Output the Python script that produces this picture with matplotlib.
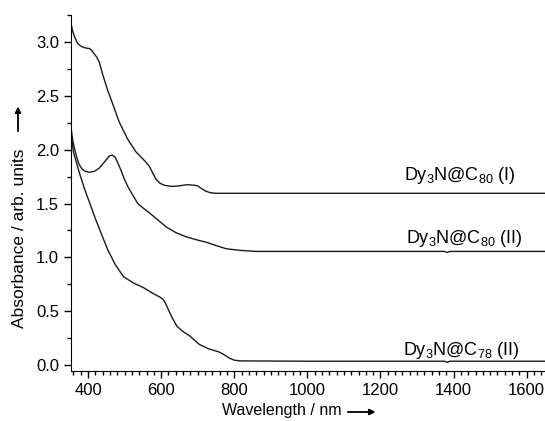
import numpy as np
import matplotlib.pyplot as plt
from matplotlib.ticker import MultipleLocator, FormatStrFormatter

plt.rcParams['font.family'] = ['Liberation Sans', 'DejaVu Sans']
plt.rcParams['mathtext.fontset'] = 'custom'
plt.rcParams['mathtext.rm'] = 'Liberation Sans'
plt.rcParams['mathtext.default'] = 'regular'

# Dy3N@C80 (I)
wl_1 = [353, 358, 363, 371, 381, 393, 404, 411, 417, 424, 431, 440, 454, 467,
        485, 508, 531, 554, 567, 576, 585, 596, 608, 625, 640, 672, 690, 699,
        710, 722, 735, 749, 800, 1000, 1400, 1650]
abs_1 = [3.18, 3.10, 3.05, 2.99, 2.96, 2.945, 2.94, 2.92, 2.89, 2.86, 2.81,
         2.70, 2.55, 2.43, 2.26, 2.10, 1.98, 1.90, 1.85, 1.79, 1.73, 1.69,
         1.67, 1.66, 1.66, 1.675, 1.67, 1.665, 1.64, 1.615, 1.60, 1.595, 1.595,
         1.595, 1.595, 1.595]

# Dy3N@C80 (II)
wl_2 = [353, 358, 363, 370, 376, 384, 392, 404, 418, 431, 448, 458, 466, 474,
        481, 490, 499, 510, 522, 536, 550, 569, 590, 615, 640, 669, 700, 724,
        750, 778, 815, 860, 1000, 1375, 1382, 1390, 1650]
abs_2 = [2.22, 2.09, 2.01, 1.92, 1.86, 1.82, 1.80, 1.79, 1.80, 1.83, 1.90,
         1.94, 1.95, 1.93, 1.88, 1.81, 1.73, 1.65, 1.58, 1.50, 1.46, 1.41,
         1.35, 1.28, 1.23, 1.19, 1.16, 1.14, 1.11, 1.08, 1.065, 1.055, 1.055,
         1.055, 1.045, 1.055, 1.055]

# Dy3N@C78 (II)
wl_3 = [353, 360, 375, 390, 404, 420, 435, 454, 475, 497, 525, 551, 575, 597,
        605, 611, 627, 643, 660, 678, 705, 730, 759, 775, 786, 800, 815, 1000,
        1375, 1382, 1390, 1650]
abs_3 = [2.17, 1.98, 1.80, 1.64, 1.51, 1.36, 1.23, 1.07, 0.93, 0.82, 0.76,
         0.72, 0.67, 0.63, 0.61, 0.58, 0.46, 0.36, 0.31, 0.27, 0.19, 0.15,
         0.12, 0.09, 0.065, 0.045, 0.038, 0.035, 0.035, 0.025, 0.035, 0.035]

labels = [r'Dy$_3$N@C$_{80}$ (I)', r'Dy$_3$N@C$_{80}$ (II)',
          r'Dy$_3$N@C$_{78}$ (II)']

fig = plt.figure(figsize=(5.45, 4.21), dpi=100)
ax = fig.add_axes([0.130, 0.119, 0.870, 0.845])

for wl, a in [(wl_1, abs_1), (wl_2, abs_2), (wl_3, abs_3)]:
    ax.plot(wl, a, color='#1a1a1a', lw=1.0, solid_joinstyle='round')

ax.text(1570, 1.72, labels[0], ha='right', va='baseline', fontsize=13)
ax.text(1587, 1.13, labels[1], ha='right', va='baseline', fontsize=13)
ax.text(1579, 0.093, labels[2], ha='right', va='baseline', fontsize=13)

ax.set_xlim(353, 1650)
ax.set_ylim(-0.055, 3.25)
ax.xaxis.set_major_locator(MultipleLocator(200))
ax.xaxis.set_minor_locator(MultipleLocator(20))
ax.yaxis.set_major_locator(MultipleLocator(0.5))
ax.yaxis.set_minor_locator(MultipleLocator(0.25))
ax.yaxis.set_major_formatter(FormatStrFormatter('%.1f'))
ax.spines['top'].set_visible(False)
ax.spines['right'].set_visible(False)
ax.tick_params(which='major', direction='out', length=5, width=1, labelsize=12)
ax.tick_params(which='minor', direction='out', length=3, width=1)

# axis titles with arrows (figure coordinates)
W, H = 545.0, 421.0
fig.text(20 / W, 1 - 238 / H, 'Absorbance / arb. units', rotation=90,
         ha='center', va='center', fontsize=12.5)
fig.text(341 / W, 1 - 411 / H, 'Wavelength / nm', ha='right', va='center',
         fontsize=11.5)
arr = dict(arrowstyle='-|>', lw=1.0, color='k', mutation_scale=9)
fig.add_artist(plt.annotate('', xy=(18 / W, 1 - 104 / H), xytext=(18 / W, 1 - 134 / H),
                            xycoords='figure fraction', arrowprops=arr))
fig.add_artist(plt.annotate('', xy=(378 / W, 1 - 412 / H), xytext=(345 / W, 1 - 412 / H),
                            xycoords='figure fraction', arrowprops=arr))

plt.savefig('out.png', dpi=100)
